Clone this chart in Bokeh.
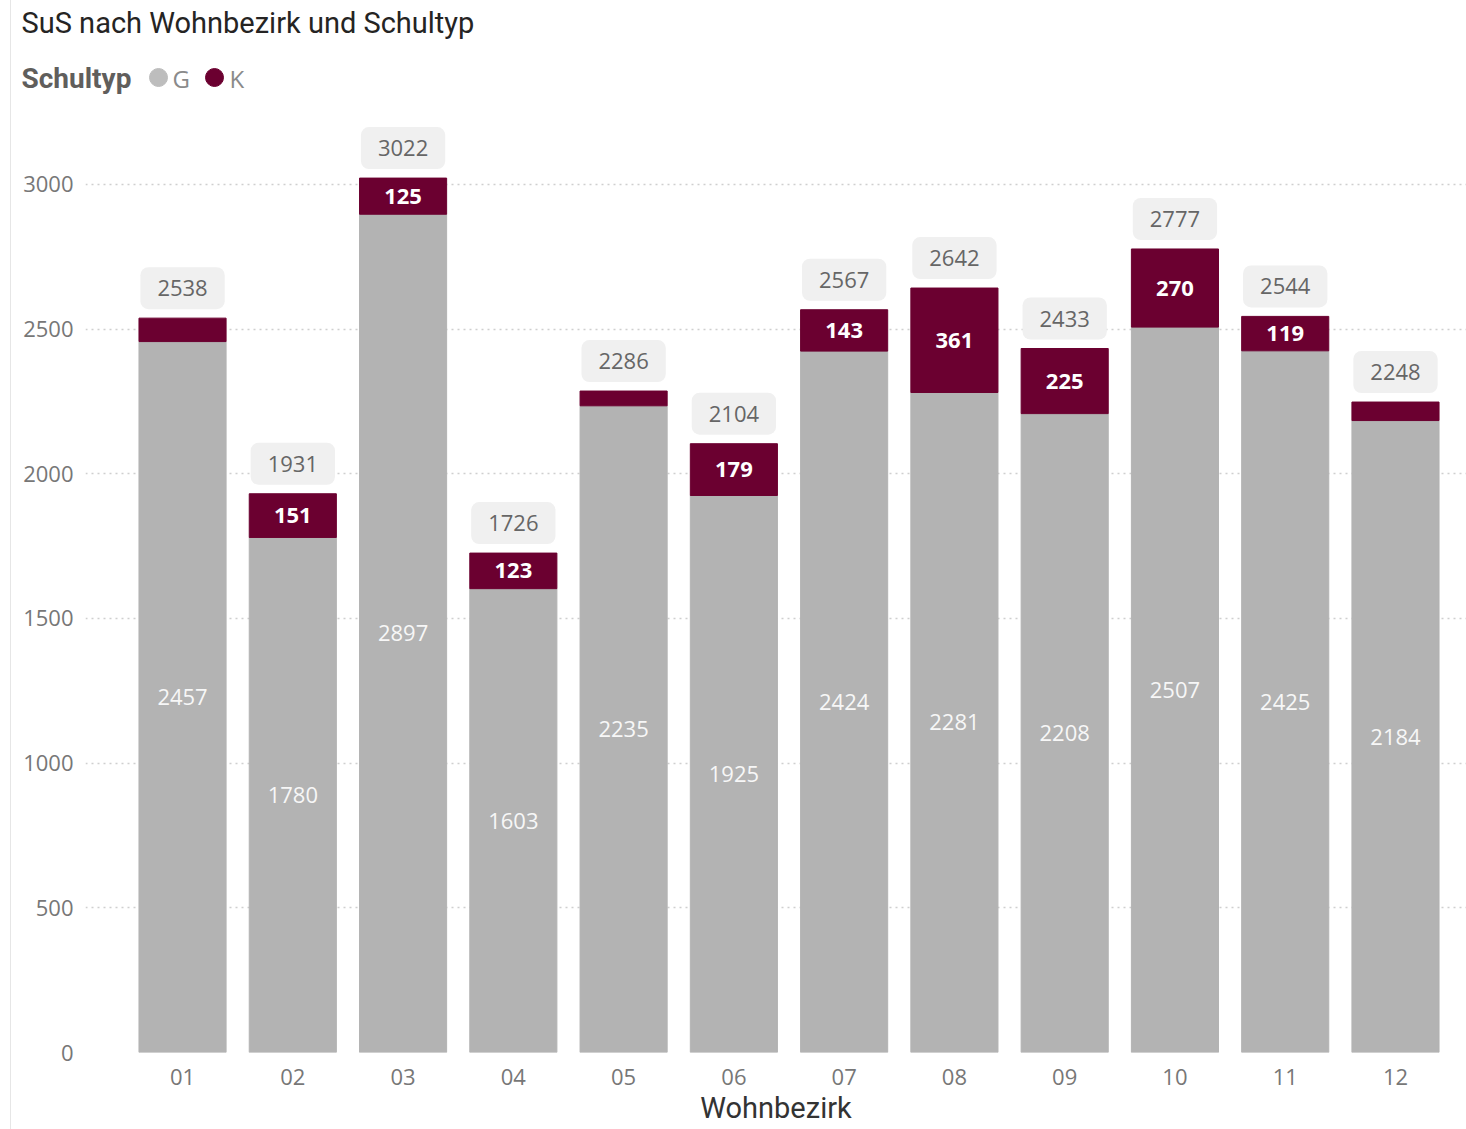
from bokeh.plotting import figure
from bokeh.models import Range1d, FixedTicker, ColumnDataSource
from bokeh.layouts import column
from bokeh.embed import file_html
from bokeh.resources import INLINE
from bokeh.core.properties import value

categories = ["01", "02", "03", "04", "05", "06", "07", "08", "09", "10", "11", "12"]
g_values = [2457, 1780, 2897, 1603, 2235, 1925, 2424, 2281, 2208, 2507, 2425, 2184]
totals = [2538, 1931, 3022, 1726, 2286, 2104, 2567, 2642, 2433, 2777, 2544, 2248]
k_values = [t - g for t, g in zip(totals, g_values)]
y_ticks = [0, 500, 1000, 1500, 2000, 2500, 3000]
series = ["G", "K"]
title_text = "SuS nach Wohnbezirk und Schultyp"
legend_title = "Schultyp"

G_COLOR = "#B3B3B3"
K_COLOR = "#6B0030"
G_LEGEND = "#BDBDBD"
FONT = "Open Sans"
TFONT = "Roboto"

# ---------- header (title + legend) ----------
HW, HH = 1466, 112
h = figure(width=HW, height=HH, output_backend="svg", toolbar_location=None,
           x_range=Range1d(0, HW), y_range=Range1d(HH, 0),
           min_border=0, min_border_left=0, min_border_right=0, min_border_top=0, min_border_bottom=0)
h.frame_align = False
h.axis.visible = False
h.grid.visible = False
h.outline_line_color = None
h.border_fill_alpha = 0
h.background_fill_alpha = 0
h.text(x=[21], y=[22], text=[title_text], text_font=value(TFONT), text_font_size="29px",
       text_color="#252423", text_baseline="middle", text_align="left")
h.text(x=[21], y=[78], text=[legend_title], text_font=value(TFONT), text_font_size="28px",
       text_font_style="bold", text_color="#605E5C", text_baseline="middle", text_align="left")
h.scatter(x=[158, 214], y=[77, 77], size=18, marker="circle", color=[G_LEGEND, K_COLOR])
h.text(x=[172, 229], y=[78, 78], text=series, text_font=value(FONT), text_font_size="24px",
       text_color="#8A8A8A", text_baseline="middle", text_align="left")

# ---------- main chart ----------
xs = list(range(len(categories)))
src = ColumnDataSource(dict(
    x=xs, g=g_values, k=k_values, total=totals,
    g_mid=[g / 2 for g in g_values],
    g_lab=[str(g) for g in g_values],
    t_lab=[str(t) for t in totals],
))
k_show = [i for i, k in enumerate(k_values) if k >= 100]
ksrc = ColumnDataSource(dict(
    x=[xs[i] for i in k_show],
    y=[g_values[i] + k_values[i] / 2 for i in k_show],
    lab=[str(k_values[i]) for i in k_show],
))

p = figure(width=1466, height=1129 - HH, output_backend="svg", toolbar_location=None,
           x_range=Range1d(-0.88, 11.644), y_range=Range1d(0, 3221),
           min_border_left=85, min_border_right=0, min_border_top=8, min_border_bottom=77)
p.frame_align = False
p.outline_line_color = None
p.border_fill_alpha = 0
p.background_fill_color = "white"

p.vbar(x="x", bottom=0, top="g", width=0.79, color=G_COLOR, source=src)
p.vbar(x="x", bottom="g", top="total", width=0.79, color=K_COLOR, source=src)

p.text(x="x", y="g_mid", text="g_lab", source=src, text_align="center", text_baseline="middle",
       text_font=value(FONT), text_font_size="22px", text_color="#F7F7F7")
p.text(x="x", y="y", text="lab", source=ksrc, text_align="center", text_baseline="middle",
       text_font=value(FONT), text_font_size="22px", text_font_style="bold", text_color="white")
p.text(x="x", y="total", text="t_lab", source=src, text_align="center", text_baseline="middle",
       y_offset=-30, text_font=value(FONT), text_font_size="22px", text_color="#666666",
       background_fill_color="#F0F0F0", border_radius=8,
       padding=dict(left=17, right=17, top=13, bottom=13))

p.xgrid.grid_line_color = None
p.ygrid.grid_line_color = "#CFCFCF"
p.ygrid.grid_line_dash = "2 4"
p.ygrid.grid_line_width = 1.5
p.yaxis.ticker = FixedTicker(ticks=y_ticks)
p.xaxis.ticker = FixedTicker(ticks=xs)
p.xaxis.major_label_overrides = {i: c for i, c in zip(xs, categories)}

for ax in (p.xaxis[0], p.yaxis[0]):
    ax.axis_line_color = None
    ax.major_tick_line_color = None
    ax.minor_tick_line_color = None
    ax.major_label_text_font = FONT
    ax.major_label_text_font_size = "22px"
    ax.major_label_text_color = "#777777"
p.yaxis.major_label_standoff = 6
p.xaxis.major_label_standoff = 10
p.xaxis.axis_label = "Wohnbezirk"
p.xaxis.axis_label_text_font = TFONT
p.xaxis.axis_label_text_font_size = "29px"
p.xaxis.axis_label_text_font_style = "normal"
p.xaxis.axis_label_text_color = "#333333"
p.xaxis.axis_label_standoff = 3

layout = column(h, p, spacing=0)
layout.styles = {
    "background-color": "white",
    "background-image": "linear-gradient(#E6E6E6, #E6E6E6)",
    "background-size": "1px 100%",
    "background-position": "10px 0",
    "background-repeat": "no-repeat",
}

open("out.html", "w").write(file_html(layout, INLINE))
